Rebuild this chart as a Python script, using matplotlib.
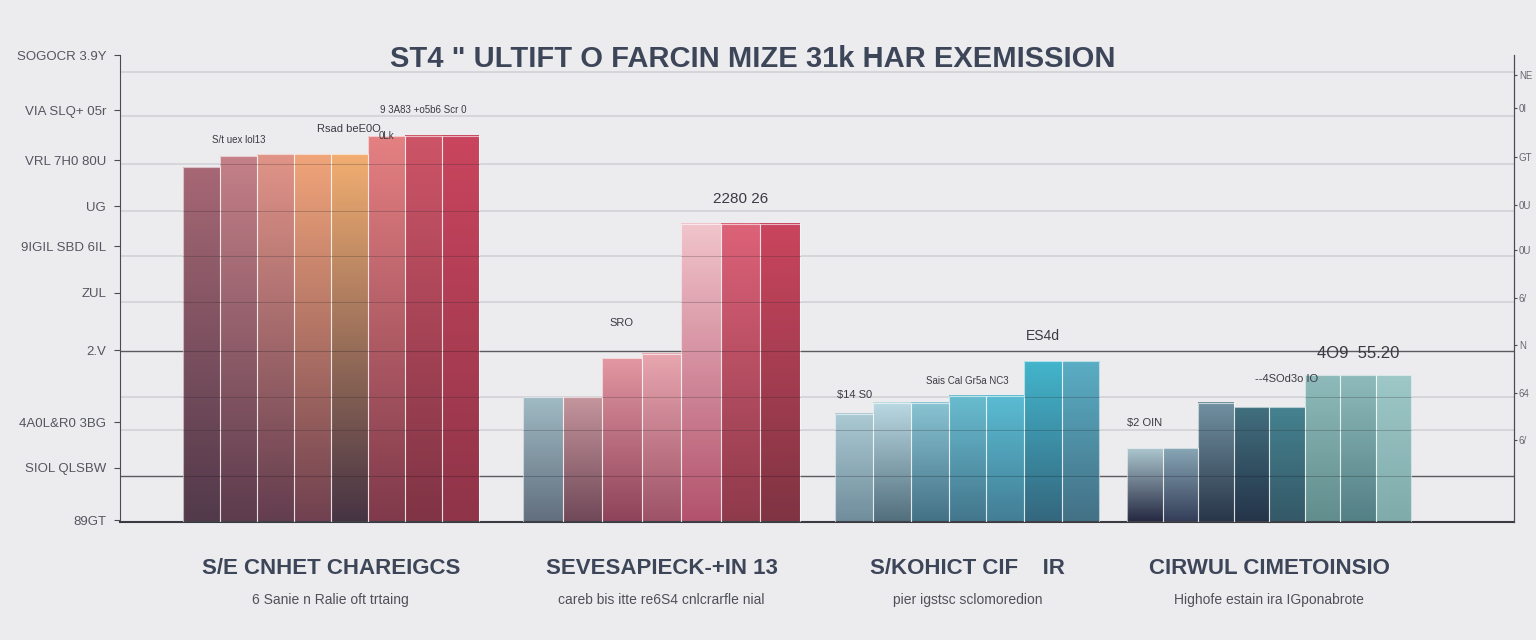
import numpy as np
import matplotlib.pyplot as plt
from matplotlib.colors import to_rgb
from matplotlib.transforms import blended_transform_factory

# Дані
title = 'ST4 " ULTIFT O FARCIN MIZE 31k HAR EXEMISSION'
categories = ['S/E CNHET CHAREIGCS', 'SEVESAPIECK-+IN 13', 'S/KOHICT CIF    IR', 'CIRWUL CIMETOINSIO']
subtitles = ['6 Sanie n Ralie oft trtaing', 'careb bis itte re6S4 cnlcrarfle nial',
             'pier igstsc sclomoredion', 'Highofe estain ira IGponabrote']

g1_values = [77.5, 79.9, 80.3, 80.3, 80.3, 84.2, 84.4, 84.4]
g2_values = [27.2, 27.2, 35.8, 36.8, 65.1, 65.1, 65.1]
g3_values = [23.6, 26.1, 26.1, 27.6, 27.6, 35.1, 35.1]
g4_values = [16.1, 16.1, 26.1, 25.1, 25.1, 32.1, 32.1, 32.1]

left_ticks = [0.4, 11.8, 21.8, 37.5, 50.1, 60.2, 69.0, 79.0, 89.9, 102.0]
left_labels = ['89GT', 'SIOL QLSBW', '4A0L&R0 3BG', '2.V', 'ZUL', '9IGIL SBD 6IL', 'UG',
               'VRL 7H0 80U', 'VIA SLQ+ 05r', 'SOGOCR 3.9Y']
right_ticks = [17.5, 27.6, 37.9, 48.0, 58.2, 67.9, 78.2, 88.7, 95.7]
right_labels = ['6/', '64', 'N', '6/', '0U', '0U', 'GT', '0I', 'NE']
grid_levels = [10.1, 20.1, 27.2, 37.3, 48.0, 58.2, 67.9, 78.2, 88.7, 98.3]
dark_levels = [10.1, 37.3]

# кольори: (верх, низ) для кожного стовпчика
g1_colors = [('#a3606e', '#4a3042'), ('#c27a82', '#553244'), ('#e08f82', '#5c3446'),
             ('#f0a073', '#6a3848'), ('#f2aa6a', '#3e2a3a'), ('#e47a7c', '#7a3042'),
             ('#cc4c60', '#7a2a3c'), ('#c83c56', '#8a2a40')]
g2_colors = [('#9cb8c2', '#5a6878'), ('#c29098', '#6a4050'), ('#e2929e', '#8a3a52'),
             ('#e8a2ac', '#9a4a60'), ('#f2c2ca', '#b04a66'), ('#dc5a72', '#8a3042'),
             ('#c83c56', '#7a2a3a')]
g3_colors = [('#a8c8d2', '#6a8898'), ('#b8d8e2', '#4a6878'), ('#84c2d2', '#3a6a80'),
             ('#62bace', '#3a7088'), ('#52bad2', '#3a7890'), ('#3ab2ca', '#2a6078'),
             ('#52aac2', '#3a6a80')]
g4_colors = [('#a8c4cc', '#1a1e38'), ('#82a2b2', '#2a3450'), ('#6a8c9c', '#1e2c40'),
             ('#386878', '#1a2a40'), ('#3c7c8a', '#2a5060'), ('#8ab8b8', '#5a8888'),
             ('#8ab8b8', '#4a7a80'), ('#9ac6c6', '#7aa8a8')]

groups = [g1_values, g2_values, g3_values, g4_values]
colors = [g1_colors, g2_colors, g3_colors, g4_colors]
starts = [1.70, 10.9, 19.35, 27.24]
widths = [1.0, 1.07, 1.02, 0.96]

fig = plt.figure(figsize=(15.36, 6.4), dpi=100)
fig.patch.set_facecolor('#ececee')
plt.rcParams['font.family'] = ['Liberation Sans', 'DejaVu Sans']

ax = fig.add_axes([120 / 1536, 118 / 640, 1394 / 1536, 467 / 640])
ax.set_facecolor('none')

# сітка
for lv in grid_levels:
    c = '#5a5a60' if lv in dark_levels else '#d2d2d6'
    ax.axhline(lv, color=c, lw=1.0 if lv in dark_levels else 1.2, zorder=1)

# стовпчики з градієнтом
for vals, cols, x0, w in zip(groups, colors, starts, widths):
    for i, (h, (ctop, cbot)) in enumerate(zip(vals, cols)):
        t = np.linspace(0, 1, 64)[:, None, None]
        grad = np.array(to_rgb(cbot)) * (1 - t) + np.array(to_rgb(ctop)) * t
        x = x0 + i * w
        ax.imshow(grad, extent=[x, x + w, 0, h], origin='lower', aspect='auto',
                  alpha=0.95, zorder=2, interpolation='bilinear')
        ax.add_patch(plt.Rectangle((x, 0), w, h, fill=False, edgecolor='white',
                                   lw=0.8, alpha=0.6, zorder=3))
        for lv in grid_levels:
            if lv < h - 1:
                ax.plot([x, x + w], [lv, lv], color='#2a2a30', lw=0.7, alpha=0.25, zorder=3)

ax.set_xlim(0, 37.7)
ax.set_ylim(0, 100)

ax.spines['top'].set_visible(False)
ax.spines['left'].set_color('#4a4a52')
ax.spines['right'].set_color('#4a4a52')
ax.spines['bottom'].set_color('#3a3a42')
ax.spines['bottom'].set_linewidth(1.5)
ax.set_xticks([])
ax.set_yticks(left_ticks)
ax.set_yticklabels(left_labels, fontsize=9.5, color='#555560')
ax.tick_params(axis='y', length=4, color='#4a4a52', pad=6)

ax2 = ax.twinx()
ax2.set_ylim(0, 100)
ax2.set_yticks(right_ticks)
ax2.set_yticklabels(right_labels, fontsize=7, color='#666670')
ax2.tick_params(axis='y', length=2, color='#4a4a52', pad=1.5)
for s in ['top', 'left', 'bottom']:
    ax2.spines[s].set_visible(False)
ax2.spines['right'].set_color('#4a4a52')

# заголовок
fig.text(0.49, 0.908, title, ha='center', va='center', fontsize=21,
         fontweight='bold', color='#3d4659')

# підписи груп
tr = blended_transform_factory(ax.transData, fig.transFigure)
for vals, x0, w, cat, sub in zip(groups, starts, widths, categories, subtitles):
    cx = x0 + len(vals) * w / 2
    ax.text(cx, 0.111, cat, transform=tr, ha='center', va='center', fontsize=16,
            color='#3d4659', fontweight='bold')
    ax.text(cx, 0.062, sub, transform=tr, ha='center', va='center', fontsize=10,
            color='#50505a')

# підписи значень над стовпчиками: (група, стовпчик, текст, зсув, розмір)
annotations = [
    (0, 1, 'S/t uex lol13', 2.5, 7), (0, 4, 'Rsad beE0O', 4.5, 8),
    (0, 5, '0Lk', -1.0, 7), (0, 6, '9 3A83 +o5b6 Scr 0', 4.5, 7),
    (1, 2, 'SRO', 6.5, 8), (1, 5, '2280 26', 4.0, 11),
    (2, 0, '$14 S0', 3.0, 8), (2, 3, 'Sais Cal Gr5a NC3', 2.0, 7),
    (2, 5, 'ES4d', 4.0, 10), (3, 0, '$2 OIN', 4.5, 8),
    (3, 4, '--4SOd3o IO', 5.0, 8), (3, 6, '4O9  55.20', 3.0, 12),
]
for gi, bi, txt, dy, fs in annotations:
    x = starts[gi] + (bi + 0.5) * widths[gi]
    ax.text(x, groups[gi][bi] + dy, txt, ha='center', va='bottom', fontsize=fs,
            color='#3a3a44', zorder=5)

fig.savefig('out.png', dpi=100, facecolor=fig.get_facecolor())
